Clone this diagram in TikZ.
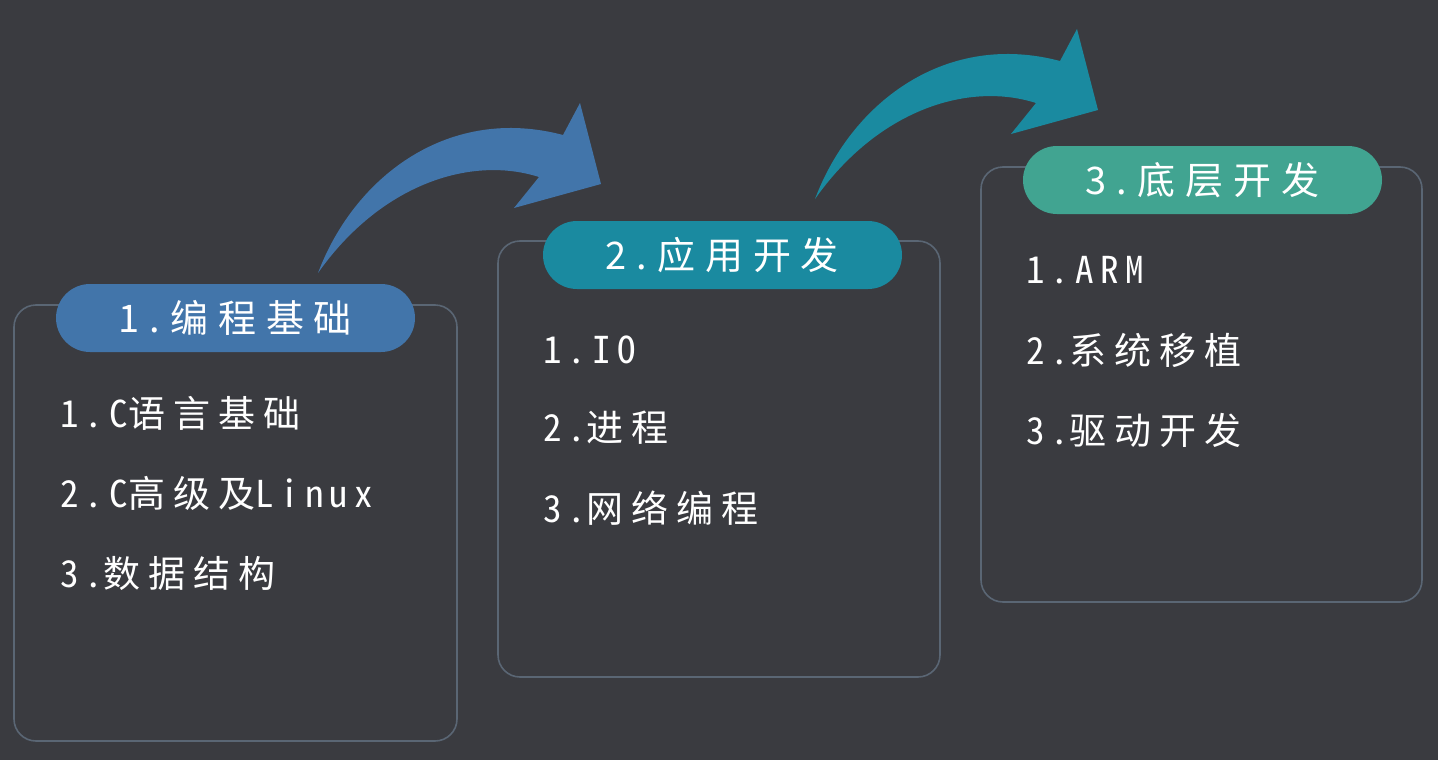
\documentclass[tikz,border=0pt]{standalone}
\usepackage{fontspec}
\setmainfont{Noto Sans CJK SC}
\newfontfamily\itemfont[LetterSpace=22]{Noto Sans CJK SC}
\newfontfamily\latfont[LetterSpace=17,RawFeature=+hwid]{Noto Sans CJK SC}
\newfontfamily\titlefont[LetterSpace=26]{Noto Sans CJK SC}
\newcommand{\lat}[1]{{\latfont #1}}
\definecolor{bg}{HTML}{3A3B40}
\definecolor{panelline}{HTML}{5A6674}
\definecolor{cblue}{HTML}{4275AA}
\definecolor{cteal}{HTML}{1A8AA0}
\definecolor{cgreen}{HTML}{41A491}
\tikzset{
  panel/.style={draw=panelline, line width=1.6pt, rounded corners=22pt, inner sep=0pt},
  pill/.style={rounded corners=34pt, minimum width=359pt, minimum height=68pt, inner sep=0pt,
    text=white, font=\titlefont\fontsize{38}{40}\selectfont},
  item/.style={anchor=west, inner sep=0pt, text=white, font=\itemfont\fontsize{37}{40}\selectfont},
}
\begin{document}
\begin{tikzpicture}[x=1pt,y=-1pt]
\fill[bg] (0,0) rectangle (1438,760);
\useasboundingbox (0,0) rectangle (1438,760);

% curved arrows
\fill[cblue] (318,273) .. controls (355,175) and (450,105) .. (563,135) -- (580,103) -- (601,184) -- (514,208) -- (539,177) .. controls (470,155) and (380,185) .. (318,273) -- cycle;
\begin{scope}[shift={(497,-74)}]
\fill[cteal] (318,273) .. controls (355,175) and (450,105) .. (563,135) -- (580,103) -- (601,184) -- (514,208) -- (539,177) .. controls (470,155) and (380,185) .. (318,273) -- cycle;
\end{scope}

% panels
\node[panel, minimum width=443pt, minimum height=436pt] (p1) at (235.5,523) {};
\node[panel, minimum width=442pt, minimum height=436pt] (p2) at (719,459) {};
\node[panel, minimum width=441pt, minimum height=435pt] (p3) at (1201.5,384.5) {};

% pills
\node[pill, fill=cblue] (t1) at (235.5,318) {1.编程基础\hspace{-6pt}};
\node[pill, fill=cteal] (t2) at (722.5,255) {2.应用开发\hspace{-6pt}};
\node[pill, fill=cgreen] (t3) at (1202.5,180) {3.底层开发\hspace{-6pt}};

% items
\node[item] (a1) at (60,413) {\lat{1.C}语言基础};
\node[item] (a2) at (60,493) {\lat{2.C}高级及\lat{Linux}};
\node[item] (a3) at (60,573) {\lat{3.}数据结构};

\node[item] (b1) at (543,350) {\lat{1.IO}};
\node[item] (b2) at (543,428) {\lat{2.}进程};
\node[item] (b3) at (543,508) {\lat{3.}网络编程};

\node[item] (c1) at (1026,270) {\lat{1.ARM}};
\node[item] (c2) at (1026,350) {\lat{2.}系统移植};
\node[item] (c3) at (1026,430) {\lat{3.}驱动开发};
\end{tikzpicture}
\end{document}
